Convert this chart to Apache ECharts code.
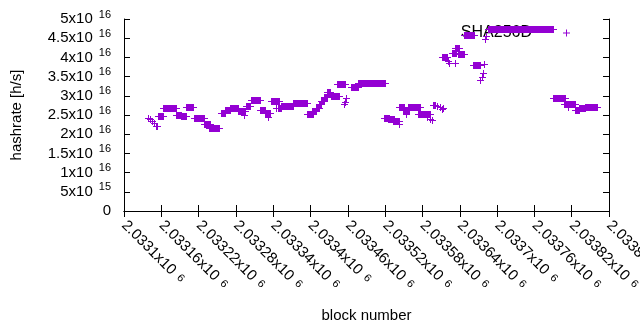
<!DOCTYPE html>
<html>
<head>
<meta charset="utf-8">
<script src="https://cdn.jsdelivr.net/npm/echarts@6/dist/echarts.min.js"></script>
<style>
html, body { margin: 0; background: #fff; }
#chart { width: 640px; height: 330px; }
</style>
</head>
<body>
<div id="chart"></div>
<script>
// runs of blocks that share the same hashrate estimate (a single point has from == to)
const blockFrom = [
  2033139, 2033142, 2033145, 2033149, 2033151, 2033154, 2033163, 2033183, 2033191, 2033200,
  2033213, 2033229, 2033237, 2033256, 2033262, 2033270, 2033283, 2033293, 2033296, 2033305,
  2033318, 2033326, 2033332, 2033336, 2033344, 2033347, 2033352, 2033372, 2033394, 2033402,
  2033409, 2033413, 2033417, 2033421, 2033427, 2033433, 2033442, 2033454, 2033456, 2033457,
  2033465, 2033477, 2033518, 2033525, 2033533, 2033543, 2033543, 2033549, 2033553, 2033557,
  2033573, 2033587, 2033592, 2033595, 2033597, 2033603, 2033608, 2033611, 2033613, 2033612,
  2033621, 2033622, 2033632, 2033627, 2033633, 2033637, 2033646, 2033662, 2033672, 2033675,
  2033677, 2033679, 2033681, 2033682, 2033685, 2033790, 2033808, 2033814, 2033826, 2033832,
  2033841
];
const blockTo = [
  2033139, 2033142, 2033145, 2033149, 2033153, 2033162, 2033184, 2033192, 2033199, 2033211,
  2033228, 2033238, 2033253, 2033262, 2033270, 2033283, 2033294, 2033293, 2033303, 2033319,
  2033327, 2033334, 2033332, 2033349, 2033344, 2033353, 2033372, 2033395, 2033404, 2033408,
  2033413, 2033417, 2033421, 2033426, 2033432, 2033445, 2033455, 2033454, 2033456, 2033457,
  2033476, 2033519, 2033526, 2033534, 2033542, 2033543, 2033551, 2033559, 2033553, 2033576,
  2033592, 2033587, 2033592, 2033595, 2033600, 2033603, 2033608, 2033611, 2033613, 2033620,
  2033621, 2033622, 2033632, 2033634, 2033639, 2033646, 2033663, 2033672, 2033672, 2033675,
  2033677, 2033679, 2033681, 2033682, 2033790, 2033809, 2033825, 2033814, 2033832, 2033841,
  2033861
];
// hashrate in units of 10^16 h/s
const hashrateE16 = [
  2.414, 2.39, 2.35, 2.28, 2.22, 2.466, 2.675, 2.49, 2.465, 2.717,
  2.414, 2.27, 2.16, 2.545, 2.62, 2.675, 2.597, 2.50, 2.727, 2.884,
  2.62, 2.565, 2.455, 2.858, 2.69, 2.69, 2.727, 2.806, 2.518, 2.605,
  2.68, 2.78, 2.87, 2.957, 3.11, 3.0, 3.30, 2.78, 2.85, 2.95,
  3.24, 3.328, 2.414, 2.39, 2.35, 2.27, 2.709, 2.63, 2.53, 2.709,
  2.526, 2.45, 2.40, 2.37, 2.76, 2.735, 2.70, 2.65, 2.69, 4.007,
  3.90, 3.85, 3.85, 4.12, 4.24, 4.09, 4.58, 3.806, 3.41, 3.50,
  3.59, 3.83, 4.48, 4.55, 4.74, 2.936, 2.78, 2.72, 2.63, 2.675,
  2.717
];

const purple = '#9400d3';
const font = 'Liberation Sans';

const data = blockFrom.map(function (b, i) {
  return [b, blockTo[i], hashrateE16[i] * 1e16];
});

// label like gnuplot: 2.0331x10^6
function sci(v) {
  if (v === 0) return '{m|0}';
  const e = Math.floor(Math.log10(v) + 1e-9);
  const m = +(v / Math.pow(10, e)).toPrecision(6);
  return '{m|' + m + 'x10}{e|' + e + '}';
}
const mainText = { fontSize: 15, lineHeight: 20, verticalAlign: 'middle', color: '#000', fontFamily: font };
const richY = {
  m: mainText,
  e: { fontSize: 11, lineHeight: 11, verticalAlign: 'top', color: '#000', fontFamily: font, padding: [0, 0, 0, 6] }
};
// rotated labels: exponent sits almost on the line
const richX = {
  m: mainText,
  e: { fontSize: 11, lineHeight: 11, verticalAlign: 'middle', color: '#000', fontFamily: font, padding: [0, 0, 2, 6] }
};
const lineStyle = { color: '#000', width: 1 };

const chart = echarts.init(document.getElementById('chart'));
const option = {
  animation: false,
  grid: { left: 124, right: 31, top: 19, bottom: 119, containLabel: false, outerBoundsMode: 'none' },
  legend: {
    data: [{ name: 'SHA256D', icon: 'path://M0,3h7v1h-7zM3,0h1v7h-1z' }],
    right: 65,
    top: 20,
    z: 1,
    align: 'right',
    itemWidth: 7,
    itemHeight: 7,
    selectedMode: false,
    textStyle: { fontSize: 16, color: '#000', fontFamily: font, padding: [0, 26, 0, 0] }
  },
  xAxis: [{
    type: 'value',
    min: 2033100,
    max: 2033880,
    interval: 60,
    position: 'bottom',
    name: 'block number',
    nameLocation: 'middle',
    nameGap: 97,
    nameTextStyle: { fontSize: 15, color: '#000', fontFamily: font },
    axisLine: { lineStyle: lineStyle },
    axisTick: { inside: true, length: 6, lineStyle: lineStyle },
    axisLabel: { rotate: -45, margin: 12, formatter: sci, rich: richX },
    splitLine: { show: false }
  }, {
    type: 'value',
    min: 2033100,
    max: 2033880,
    interval: 60,
    position: 'top',
    axisLine: { lineStyle: lineStyle },
    axisTick: { inside: true, length: 6, lineStyle: lineStyle },
    axisLabel: { show: false },
    splitLine: { show: false }
  }],
  yAxis: [{
    type: 'value',
    min: 0,
    max: 5e16,
    interval: 5e15,
    position: 'left',
    name: 'hashrate [h/s]',
    nameLocation: 'middle',
    nameGap: 100,
    nameTextStyle: { fontSize: 15, color: '#000', fontFamily: font },
    axisLine: { show: true, lineStyle: lineStyle },
    axisTick: { show: true, inside: true, length: 6, lineStyle: lineStyle },
    axisLabel: { margin: 13, formatter: sci, rich: richY },
    splitLine: { show: false }
  }, {
    type: 'value',
    min: 0,
    max: 5e16,
    interval: 5e15,
    position: 'right',
    axisLine: { show: true, lineStyle: lineStyle },
    axisTick: { show: true, inside: true, length: 6, lineStyle: lineStyle },
    axisLabel: { show: false },
    splitLine: { show: false }
  }],
  series: [{
    name: 'SHA256D',
    type: 'custom',
    xAxisIndex: 0,
    yAxisIndex: 0,
    z: 3,
    itemStyle: { color: purple },
    encode: { x: [0, 1], y: 2 },
    // each run is drawn as overlapping '+' marks: a solid bar with short arms
    renderItem: function (params, api) {
      const a = api.coord([api.value(0), api.value(2)]);
      const b = api.coord([api.value(1), api.value(2)]);
      const x1 = Math.round(a[0]);
      const x2 = Math.round(b[0]);
      const y = Math.round(a[1]);
      const style = { fill: purple };
      return {
        type: 'group',
        children: [
          { type: 'rect', shape: { x: x1 - 3, y: y, width: x2 - x1 + 7, height: 1 }, style: style },
          { type: 'rect', shape: { x: x1, y: y - 3, width: x2 - x1 + 1, height: 7 }, style: style }
        ]
      };
    },
    data: data
  }]
};
chart.setOption(option);
</script>
</body>
</html>
